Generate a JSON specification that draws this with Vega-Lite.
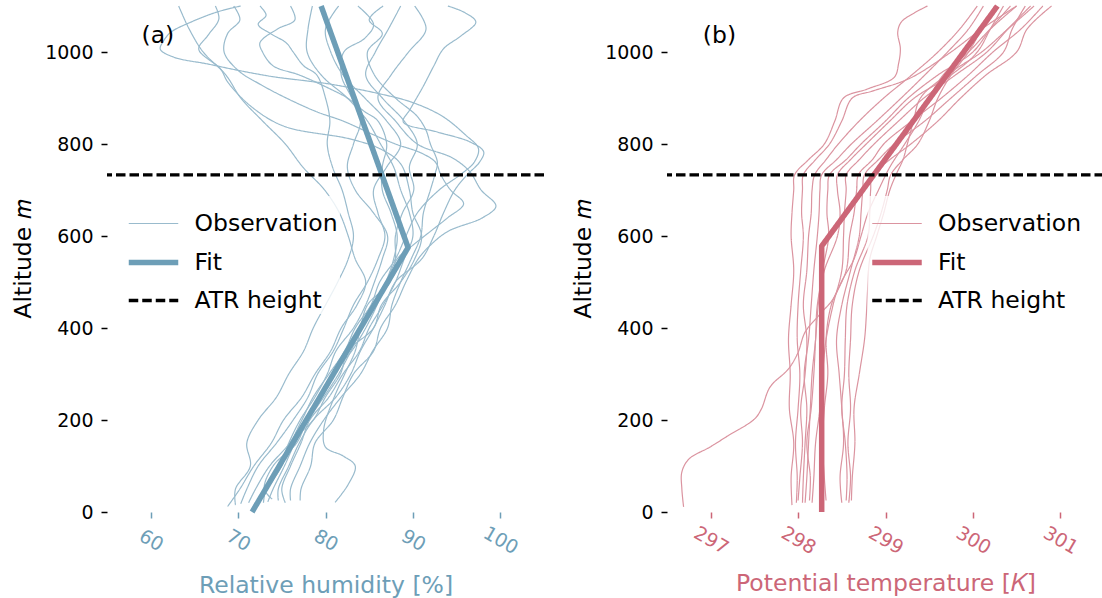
{
  "$schema": "https://vega.github.io/schema/vega-lite/v6.json",
  "autosize": {"type": "pad"},
  "padding": {"left": 11, "top": 3, "right": 0, "bottom": 0},
  "spacing": 25,
  "config": {
    "view": {"stroke": null},
    "font": "DejaVu Sans",
    "axis": {
      "grid": false,
      "domain": false,
      "labelFont": "DejaVu Sans",
      "titleFont": "DejaVu Sans",
      "labelFontSize": 19,
      "titleFontSize": 23.5,
      "titleFontWeight": "normal",
      "tickSize": 6,
      "tickWidth": 1.5,
      "labelOverlap": false,
      "labelColor": "#000000",
      "tickColor": "#000000",
      "titleColor": "#000000"
    },
    "legend": {
      "title": null,
      "orient": "none",
      "symbolType": "stroke",
      "symbolSize": 2450,
      "labelFont": "DejaVu Sans",
      "labelFontSize": 23.5,
      "labelColor": "#000000",
      "labelOffset": 13.5,
      "labelLimit": 400,
      "rowPadding": -22,
      "padding": 2,
      "fillColor": "rgba(255,255,255,0.8)"
    }
  },
  "datasets": {
    "rh_fit": [
      {"kind": "Fit", "alt": 0, "rh": 71.6},
      {"kind": "Fit", "alt": 575, "rh": 89.45},
      {"kind": "Fit", "alt": 1100, "rh": 79.5}
    ],
    "theta_fit": [
      {"kind": "Fit", "alt": 0, "theta": 298.27},
      {"kind": "Fit", "alt": 578, "theta": 298.27},
      {"kind": "Fit", "alt": 1100, "theta": 300.28}
    ],
    "atr": [
      {"kind": "ATR height", "alt": 733}
    ],
    "rh_obs": [
      {"p": "L1", "kind": "Observation", "alt": 12, "rh": 68.8},
      {"p": "L1", "kind": "Observation", "alt": 50, "rh": 70.2},
      {"p": "L1", "kind": "Observation", "alt": 100, "rh": 71.8},
      {"p": "L1", "kind": "Observation", "alt": 150, "rh": 73.8},
      {"p": "L1", "kind": "Observation", "alt": 200, "rh": 75.2},
      {"p": "L1", "kind": "Observation", "alt": 250, "rh": 77.3},
      {"p": "L1", "kind": "Observation", "alt": 300, "rh": 78.8},
      {"p": "L1", "kind": "Observation", "alt": 350, "rh": 80.6},
      {"p": "L1", "kind": "Observation", "alt": 400, "rh": 81.8},
      {"p": "L1", "kind": "Observation", "alt": 450, "rh": 83.6},
      {"p": "L1", "kind": "Observation", "alt": 500, "rh": 84.6},
      {"p": "L1", "kind": "Observation", "alt": 550, "rh": 83.4},
      {"p": "L1", "kind": "Observation", "alt": 600, "rh": 82.6},
      {"p": "L1", "kind": "Observation", "alt": 650, "rh": 81.6},
      {"p": "L1", "kind": "Observation", "alt": 700, "rh": 79.9},
      {"p": "L1", "kind": "Observation", "alt": 750, "rh": 77.4},
      {"p": "L1", "kind": "Observation", "alt": 800, "rh": 75.4},
      {"p": "L1", "kind": "Observation", "alt": 850, "rh": 72.8},
      {"p": "L1", "kind": "Observation", "alt": 900, "rh": 70.3},
      {"p": "L1", "kind": "Observation", "alt": 950, "rh": 68.6},
      {"p": "L1", "kind": "Observation", "alt": 1000, "rh": 66.0},
      {"p": "L1", "kind": "Observation", "alt": 1050, "rh": 64.4},
      {"p": "L1", "kind": "Observation", "alt": 1100, "rh": 63.2},

      {"p": "L2", "kind": "Observation", "alt": 20, "rh": 71.2},
      {"p": "L2", "kind": "Observation", "alt": 50, "rh": 72.0},
      {"p": "L2", "kind": "Observation", "alt": 100, "rh": 73.6},
      {"p": "L2", "kind": "Observation", "alt": 150, "rh": 75.9},
      {"p": "L2", "kind": "Observation", "alt": 200, "rh": 77.3},
      {"p": "L2", "kind": "Observation", "alt": 250, "rh": 78.6},
      {"p": "L2", "kind": "Observation", "alt": 300, "rh": 80.4},
      {"p": "L2", "kind": "Observation", "alt": 350, "rh": 82.2},
      {"p": "L2", "kind": "Observation", "alt": 400, "rh": 83.4},
      {"p": "L2", "kind": "Observation", "alt": 450, "rh": 85.2},
      {"p": "L2", "kind": "Observation", "alt": 500, "rh": 86.2},
      {"p": "L2", "kind": "Observation", "alt": 550, "rh": 88.0},
      {"p": "L2", "kind": "Observation", "alt": 600, "rh": 89.2},
      {"p": "L2", "kind": "Observation", "alt": 650, "rh": 90.5},
      {"p": "L2", "kind": "Observation", "alt": 700, "rh": 93.0},
      {"p": "L2", "kind": "Observation", "alt": 733, "rh": 95.4},
      {"p": "L2", "kind": "Observation", "alt": 760, "rh": 97.0},
      {"p": "L2", "kind": "Observation", "alt": 790, "rh": 97.5},
      {"p": "L2", "kind": "Observation", "alt": 820, "rh": 96.0},
      {"p": "L2", "kind": "Observation", "alt": 860, "rh": 93.4},
      {"p": "L2", "kind": "Observation", "alt": 890, "rh": 90.0},
      {"p": "L2", "kind": "Observation", "alt": 910, "rh": 86.0},
      {"p": "L2", "kind": "Observation", "alt": 930, "rh": 80.6},
      {"p": "L2", "kind": "Observation", "alt": 937, "rh": 77.9},
      {"p": "L2", "kind": "Observation", "alt": 946, "rh": 74.1},
      {"p": "L2", "kind": "Observation", "alt": 959, "rh": 70.3},
      {"p": "L2", "kind": "Observation", "alt": 974, "rh": 66.5},
      {"p": "L2", "kind": "Observation", "alt": 989, "rh": 62.6},
      {"p": "L2", "kind": "Observation", "alt": 1006, "rh": 61.1},
      {"p": "L2", "kind": "Observation", "alt": 1025, "rh": 61.5},
      {"p": "L2", "kind": "Observation", "alt": 1043, "rh": 62.3},
      {"p": "L2", "kind": "Observation", "alt": 1065, "rh": 64.6},
      {"p": "L2", "kind": "Observation", "alt": 1087, "rh": 67.6},
      {"p": "L2", "kind": "Observation", "alt": 1100, "rh": 70.3},

      {"p": "L3", "kind": "Observation", "alt": 25, "rh": 72.3},
      {"p": "L3", "kind": "Observation", "alt": 50, "rh": 73.2},
      {"p": "L3", "kind": "Observation", "alt": 100, "rh": 75.0},
      {"p": "L3", "kind": "Observation", "alt": 150, "rh": 76.0},
      {"p": "L3", "kind": "Observation", "alt": 200, "rh": 78.6},
      {"p": "L3", "kind": "Observation", "alt": 250, "rh": 80.0},
      {"p": "L3", "kind": "Observation", "alt": 300, "rh": 81.7},
      {"p": "L3", "kind": "Observation", "alt": 350, "rh": 82.6},
      {"p": "L3", "kind": "Observation", "alt": 400, "rh": 85.5},
      {"p": "L3", "kind": "Observation", "alt": 450, "rh": 86.4},
      {"p": "L3", "kind": "Observation", "alt": 500, "rh": 88.6},
      {"p": "L3", "kind": "Observation", "alt": 550, "rh": 90.2},
      {"p": "L3", "kind": "Observation", "alt": 600, "rh": 91.0},
      {"p": "L3", "kind": "Observation", "alt": 650, "rh": 90.0},
      {"p": "L3", "kind": "Observation", "alt": 700, "rh": 89.6},
      {"p": "L3", "kind": "Observation", "alt": 757, "rh": 88.6},
      {"p": "L3", "kind": "Observation", "alt": 789, "rh": 86.3},
      {"p": "L3", "kind": "Observation", "alt": 811, "rh": 82.8},
      {"p": "L3", "kind": "Observation", "alt": 839, "rh": 75.2},
      {"p": "L3", "kind": "Observation", "alt": 883, "rh": 71.4},
      {"p": "L3", "kind": "Observation", "alt": 935, "rh": 68.8},
      {"p": "L3", "kind": "Observation", "alt": 963, "rh": 68.0},
      {"p": "L3", "kind": "Observation", "alt": 1006, "rh": 65.5},
      {"p": "L3", "kind": "Observation", "alt": 1035, "rh": 66.5},
      {"p": "L3", "kind": "Observation", "alt": 1072, "rh": 67.8},
      {"p": "L3", "kind": "Observation", "alt": 1100, "rh": 67.4},

      {"p": "L4", "kind": "Observation", "alt": 22, "rh": 73.4},
      {"p": "L4", "kind": "Observation", "alt": 50, "rh": 74.0},
      {"p": "L4", "kind": "Observation", "alt": 100, "rh": 75.3},
      {"p": "L4", "kind": "Observation", "alt": 150, "rh": 76.5},
      {"p": "L4", "kind": "Observation", "alt": 200, "rh": 78.0},
      {"p": "L4", "kind": "Observation", "alt": 250, "rh": 79.8},
      {"p": "L4", "kind": "Observation", "alt": 300, "rh": 81.5},
      {"p": "L4", "kind": "Observation", "alt": 350, "rh": 82.9},
      {"p": "L4", "kind": "Observation", "alt": 400, "rh": 84.2},
      {"p": "L4", "kind": "Observation", "alt": 450, "rh": 85.6},
      {"p": "L4", "kind": "Observation", "alt": 500, "rh": 86.9},
      {"p": "L4", "kind": "Observation", "alt": 550, "rh": 87.8},
      {"p": "L4", "kind": "Observation", "alt": 600, "rh": 88.2},
      {"p": "L4", "kind": "Observation", "alt": 650, "rh": 87.5},
      {"p": "L4", "kind": "Observation", "alt": 700, "rh": 86.5},
      {"p": "L4", "kind": "Observation", "alt": 750, "rh": 86.5},
      {"p": "L4", "kind": "Observation", "alt": 800, "rh": 87.0},
      {"p": "L4", "kind": "Observation", "alt": 850, "rh": 86.0},
      {"p": "L4", "kind": "Observation", "alt": 870, "rh": 84.5},
      {"p": "L4", "kind": "Observation", "alt": 900, "rh": 82.5},
      {"p": "L4", "kind": "Observation", "alt": 920, "rh": 80.5},
      {"p": "L4", "kind": "Observation", "alt": 950, "rh": 77.0},
      {"p": "L4", "kind": "Observation", "alt": 970, "rh": 74.0},
      {"p": "L4", "kind": "Observation", "alt": 1000, "rh": 72.8},
      {"p": "L4", "kind": "Observation", "alt": 1020, "rh": 72.5},
      {"p": "L4", "kind": "Observation", "alt": 1050, "rh": 74.5},
      {"p": "L4", "kind": "Observation", "alt": 1070, "rh": 76.5},
      {"p": "L4", "kind": "Observation", "alt": 1100, "rh": 76.0},

      {"p": "L5", "kind": "Observation", "alt": 18, "rh": 70.3},
      {"p": "L5", "kind": "Observation", "alt": 50, "rh": 71.0},
      {"p": "L5", "kind": "Observation", "alt": 100, "rh": 72.3},
      {"p": "L5", "kind": "Observation", "alt": 150, "rh": 74.4},
      {"p": "L5", "kind": "Observation", "alt": 200, "rh": 76.3},
      {"p": "L5", "kind": "Observation", "alt": 250, "rh": 78.0},
      {"p": "L5", "kind": "Observation", "alt": 300, "rh": 79.1},
      {"p": "L5", "kind": "Observation", "alt": 350, "rh": 80.9},
      {"p": "L5", "kind": "Observation", "alt": 400, "rh": 82.1},
      {"p": "L5", "kind": "Observation", "alt": 450, "rh": 83.2},
      {"p": "L5", "kind": "Observation", "alt": 500, "rh": 84.8},
      {"p": "L5", "kind": "Observation", "alt": 550, "rh": 86.0},
      {"p": "L5", "kind": "Observation", "alt": 600, "rh": 86.8},
      {"p": "L5", "kind": "Observation", "alt": 650, "rh": 86.0},
      {"p": "L5", "kind": "Observation", "alt": 700, "rh": 85.5},
      {"p": "L5", "kind": "Observation", "alt": 750, "rh": 87.0},
      {"p": "L5", "kind": "Observation", "alt": 800, "rh": 88.6},
      {"p": "L5", "kind": "Observation", "alt": 850, "rh": 87.0},
      {"p": "L5", "kind": "Observation", "alt": 900, "rh": 84.5},
      {"p": "L5", "kind": "Observation", "alt": 950, "rh": 82.0},
      {"p": "L5", "kind": "Observation", "alt": 1000, "rh": 80.6},
      {"p": "L5", "kind": "Observation", "alt": 1050, "rh": 80.0},
      {"p": "L5", "kind": "Observation", "alt": 1100, "rh": 81.5},

      {"p": "L6", "kind": "Observation", "alt": 20, "rh": 72.9},
      {"p": "L6", "kind": "Observation", "alt": 50, "rh": 73.2},
      {"p": "L6", "kind": "Observation", "alt": 100, "rh": 74.8},
      {"p": "L6", "kind": "Observation", "alt": 150, "rh": 75.8},
      {"p": "L6", "kind": "Observation", "alt": 200, "rh": 77.1},
      {"p": "L6", "kind": "Observation", "alt": 250, "rh": 78.8},
      {"p": "L6", "kind": "Observation", "alt": 300, "rh": 80.2},
      {"p": "L6", "kind": "Observation", "alt": 350, "rh": 81.2},
      {"p": "L6", "kind": "Observation", "alt": 400, "rh": 83.2},
      {"p": "L6", "kind": "Observation", "alt": 450, "rh": 84.6},
      {"p": "L6", "kind": "Observation", "alt": 500, "rh": 85.6},
      {"p": "L6", "kind": "Observation", "alt": 550, "rh": 86.5},
      {"p": "L6", "kind": "Observation", "alt": 600, "rh": 87.1},
      {"p": "L6", "kind": "Observation", "alt": 650, "rh": 85.5},
      {"p": "L6", "kind": "Observation", "alt": 700, "rh": 83.4},
      {"p": "L6", "kind": "Observation", "alt": 750, "rh": 82.5},
      {"p": "L6", "kind": "Observation", "alt": 800, "rh": 83.2},
      {"p": "L6", "kind": "Observation", "alt": 850, "rh": 84.0},
      {"p": "L6", "kind": "Observation", "alt": 900, "rh": 83.0},
      {"p": "L6", "kind": "Observation", "alt": 950, "rh": 81.8},
      {"p": "L6", "kind": "Observation", "alt": 1000, "rh": 82.1},
      {"p": "L6", "kind": "Observation", "alt": 1030, "rh": 84.5},
      {"p": "L6", "kind": "Observation", "alt": 1060, "rh": 85.5},
      {"p": "L6", "kind": "Observation", "alt": 1100, "rh": 83.7},

      {"p": "L7", "kind": "Observation", "alt": 25, "rh": 76.0},
      {"p": "L7", "kind": "Observation", "alt": 50, "rh": 76.0},
      {"p": "L7", "kind": "Observation", "alt": 100, "rh": 77.1},
      {"p": "L7", "kind": "Observation", "alt": 150, "rh": 78.2},
      {"p": "L7", "kind": "Observation", "alt": 200, "rh": 79.8},
      {"p": "L7", "kind": "Observation", "alt": 250, "rh": 81.8},
      {"p": "L7", "kind": "Observation", "alt": 300, "rh": 84.0},
      {"p": "L7", "kind": "Observation", "alt": 350, "rh": 85.4},
      {"p": "L7", "kind": "Observation", "alt": 400, "rh": 87.1},
      {"p": "L7", "kind": "Observation", "alt": 450, "rh": 87.6},
      {"p": "L7", "kind": "Observation", "alt": 500, "rh": 88.6},
      {"p": "L7", "kind": "Observation", "alt": 550, "rh": 89.8},
      {"p": "L7", "kind": "Observation", "alt": 600, "rh": 90.9},
      {"p": "L7", "kind": "Observation", "alt": 650, "rh": 91.2},
      {"p": "L7", "kind": "Observation", "alt": 700, "rh": 92.0},
      {"p": "L7", "kind": "Observation", "alt": 733, "rh": 92.5},
      {"p": "L7", "kind": "Observation", "alt": 760, "rh": 92.8},
      {"p": "L7", "kind": "Observation", "alt": 800, "rh": 92.0},
      {"p": "L7", "kind": "Observation", "alt": 830, "rh": 91.5},
      {"p": "L7", "kind": "Observation", "alt": 860, "rh": 90.5},
      {"p": "L7", "kind": "Observation", "alt": 900, "rh": 88.0},
      {"p": "L7", "kind": "Observation", "alt": 950, "rh": 85.6},
      {"p": "L7", "kind": "Observation", "alt": 1000, "rh": 84.8},
      {"p": "L7", "kind": "Observation", "alt": 1040, "rh": 86.5},
      {"p": "L7", "kind": "Observation", "alt": 1070, "rh": 85.0},
      {"p": "L7", "kind": "Observation", "alt": 1100, "rh": 86.6},

      {"p": "L8", "kind": "Observation", "alt": 25, "rh": 74.6},
      {"p": "L8", "kind": "Observation", "alt": 50, "rh": 74.6},
      {"p": "L8", "kind": "Observation", "alt": 100, "rh": 75.8},
      {"p": "L8", "kind": "Observation", "alt": 150, "rh": 77.0},
      {"p": "L8", "kind": "Observation", "alt": 200, "rh": 78.6},
      {"p": "L8", "kind": "Observation", "alt": 250, "rh": 81.2},
      {"p": "L8", "kind": "Observation", "alt": 300, "rh": 82.9},
      {"p": "L8", "kind": "Observation", "alt": 350, "rh": 84.0},
      {"p": "L8", "kind": "Observation", "alt": 400, "rh": 85.5},
      {"p": "L8", "kind": "Observation", "alt": 450, "rh": 86.8},
      {"p": "L8", "kind": "Observation", "alt": 500, "rh": 88.0},
      {"p": "L8", "kind": "Observation", "alt": 550, "rh": 91.0},
      {"p": "L8", "kind": "Observation", "alt": 600, "rh": 92.4},
      {"p": "L8", "kind": "Observation", "alt": 650, "rh": 93.5},
      {"p": "L8", "kind": "Observation", "alt": 700, "rh": 94.8},
      {"p": "L8", "kind": "Observation", "alt": 733, "rh": 96.2},
      {"p": "L8", "kind": "Observation", "alt": 760, "rh": 97.6},
      {"p": "L8", "kind": "Observation", "alt": 783, "rh": 98.1},
      {"p": "L8", "kind": "Observation", "alt": 804, "rh": 96.6},
      {"p": "L8", "kind": "Observation", "alt": 826, "rh": 92.8},
      {"p": "L8", "kind": "Observation", "alt": 848, "rh": 88.9},
      {"p": "L8", "kind": "Observation", "alt": 876, "rh": 89.7},
      {"p": "L8", "kind": "Observation", "alt": 926, "rh": 91.2},
      {"p": "L8", "kind": "Observation", "alt": 970, "rh": 92.4},
      {"p": "L8", "kind": "Observation", "alt": 1007, "rh": 93.5},
      {"p": "L8", "kind": "Observation", "alt": 1035, "rh": 95.5},
      {"p": "L8", "kind": "Observation", "alt": 1065, "rh": 97.2},
      {"p": "L8", "kind": "Observation", "alt": 1085, "rh": 96.0},
      {"p": "L8", "kind": "Observation", "alt": 1100, "rh": 94.0},

      {"p": "L9", "kind": "Observation", "alt": 25, "rh": 77.1},
      {"p": "L9", "kind": "Observation", "alt": 50, "rh": 77.2},
      {"p": "L9", "kind": "Observation", "alt": 100, "rh": 78.3},
      {"p": "L9", "kind": "Observation", "alt": 150, "rh": 78.8},
      {"p": "L9", "kind": "Observation", "alt": 200, "rh": 80.9},
      {"p": "L9", "kind": "Observation", "alt": 250, "rh": 82.0},
      {"p": "L9", "kind": "Observation", "alt": 300, "rh": 83.2},
      {"p": "L9", "kind": "Observation", "alt": 350, "rh": 85.5},
      {"p": "L9", "kind": "Observation", "alt": 400, "rh": 86.3},
      {"p": "L9", "kind": "Observation", "alt": 450, "rh": 88.0},
      {"p": "L9", "kind": "Observation", "alt": 500, "rh": 89.2},
      {"p": "L9", "kind": "Observation", "alt": 550, "rh": 90.6},
      {"p": "L9", "kind": "Observation", "alt": 580, "rh": 92.0},
      {"p": "L9", "kind": "Observation", "alt": 610, "rh": 94.0},
      {"p": "L9", "kind": "Observation", "alt": 640, "rh": 98.0},
      {"p": "L9", "kind": "Observation", "alt": 665, "rh": 99.5},
      {"p": "L9", "kind": "Observation", "alt": 700, "rh": 97.8},
      {"p": "L9", "kind": "Observation", "alt": 740, "rh": 96.5},
      {"p": "L9", "kind": "Observation", "alt": 770, "rh": 94.5},
      {"p": "L9", "kind": "Observation", "alt": 800, "rh": 90.5},
      {"p": "L9", "kind": "Observation", "alt": 850, "rh": 88.0},
      {"p": "L9", "kind": "Observation", "alt": 900, "rh": 86.0},
      {"p": "L9", "kind": "Observation", "alt": 950, "rh": 87.5},
      {"p": "L9", "kind": "Observation", "alt": 1000, "rh": 89.5},
      {"p": "L9", "kind": "Observation", "alt": 1050, "rh": 91.5},
      {"p": "L9", "kind": "Observation", "alt": 1100, "rh": 90.2},

      {"p": "L10", "kind": "Observation", "alt": 21, "rh": 81.1},
      {"p": "L10", "kind": "Observation", "alt": 60, "rh": 82.6},
      {"p": "L10", "kind": "Observation", "alt": 100, "rh": 83.4},
      {"p": "L10", "kind": "Observation", "alt": 122, "rh": 82.0},
      {"p": "L10", "kind": "Observation", "alt": 141, "rh": 80.0},
      {"p": "L10", "kind": "Observation", "alt": 180, "rh": 79.8},
      {"p": "L10", "kind": "Observation", "alt": 245, "rh": 80.9},
      {"p": "L10", "kind": "Observation", "alt": 300, "rh": 82.2},
      {"p": "L10", "kind": "Observation", "alt": 350, "rh": 83.4},
      {"p": "L10", "kind": "Observation", "alt": 400, "rh": 84.0},
      {"p": "L10", "kind": "Observation", "alt": 450, "rh": 84.8},
      {"p": "L10", "kind": "Observation", "alt": 500, "rh": 87.4},
      {"p": "L10", "kind": "Observation", "alt": 550, "rh": 88.0},
      {"p": "L10", "kind": "Observation", "alt": 600, "rh": 88.0},
      {"p": "L10", "kind": "Observation", "alt": 650, "rh": 88.8},
      {"p": "L10", "kind": "Observation", "alt": 700, "rh": 90.1},
      {"p": "L10", "kind": "Observation", "alt": 750, "rh": 89.6},
      {"p": "L10", "kind": "Observation", "alt": 800, "rh": 90.5},
      {"p": "L10", "kind": "Observation", "alt": 850, "rh": 89.0},
      {"p": "L10", "kind": "Observation", "alt": 900, "rh": 86.5},
      {"p": "L10", "kind": "Observation", "alt": 950, "rh": 84.6},
      {"p": "L10", "kind": "Observation", "alt": 1000, "rh": 85.7},
      {"p": "L10", "kind": "Observation", "alt": 1050, "rh": 87.2},
      {"p": "L10", "kind": "Observation", "alt": 1100, "rh": 88.6},

      {"p": "L11", "kind": "Observation", "alt": 15, "rh": 69.7},
      {"p": "L11", "kind": "Observation", "alt": 50, "rh": 69.7},
      {"p": "L11", "kind": "Observation", "alt": 100, "rh": 71.4},
      {"p": "L11", "kind": "Observation", "alt": 150, "rh": 71.0},
      {"p": "L11", "kind": "Observation", "alt": 200, "rh": 72.3},
      {"p": "L11", "kind": "Observation", "alt": 250, "rh": 74.4},
      {"p": "L11", "kind": "Observation", "alt": 300, "rh": 75.8},
      {"p": "L11", "kind": "Observation", "alt": 350, "rh": 77.5},
      {"p": "L11", "kind": "Observation", "alt": 400, "rh": 78.6},
      {"p": "L11", "kind": "Observation", "alt": 450, "rh": 80.0},
      {"p": "L11", "kind": "Observation", "alt": 500, "rh": 81.4},
      {"p": "L11", "kind": "Observation", "alt": 550, "rh": 82.6},
      {"p": "L11", "kind": "Observation", "alt": 600, "rh": 83.2},
      {"p": "L11", "kind": "Observation", "alt": 650, "rh": 82.6},
      {"p": "L11", "kind": "Observation", "alt": 700, "rh": 81.9},
      {"p": "L11", "kind": "Observation", "alt": 750, "rh": 80.8},
      {"p": "L11", "kind": "Observation", "alt": 800, "rh": 80.2},
      {"p": "L11", "kind": "Observation", "alt": 850, "rh": 80.5},
      {"p": "L11", "kind": "Observation", "alt": 900, "rh": 80.0},
      {"p": "L11", "kind": "Observation", "alt": 950, "rh": 79.0},
      {"p": "L11", "kind": "Observation", "alt": 970, "rh": 77.5},
      {"p": "L11", "kind": "Observation", "alt": 1000, "rh": 76.3},
      {"p": "L11", "kind": "Observation", "alt": 1020, "rh": 75.5},
      {"p": "L11", "kind": "Observation", "alt": 1040, "rh": 73.7},
      {"p": "L11", "kind": "Observation", "alt": 1060, "rh": 72.3},
      {"p": "L11", "kind": "Observation", "alt": 1080, "rh": 73.2},
      {"p": "L11", "kind": "Observation", "alt": 1100, "rh": 72.5},

      {"p": "L12", "kind": "Observation", "alt": 20, "rh": 75.4},
      {"p": "L12", "kind": "Observation", "alt": 50, "rh": 75.0},
      {"p": "L12", "kind": "Observation", "alt": 100, "rh": 76.0},
      {"p": "L12", "kind": "Observation", "alt": 150, "rh": 77.2},
      {"p": "L12", "kind": "Observation", "alt": 200, "rh": 78.2},
      {"p": "L12", "kind": "Observation", "alt": 250, "rh": 80.4},
      {"p": "L12", "kind": "Observation", "alt": 300, "rh": 82.0},
      {"p": "L12", "kind": "Observation", "alt": 350, "rh": 83.9},
      {"p": "L12", "kind": "Observation", "alt": 400, "rh": 85.0},
      {"p": "L12", "kind": "Observation", "alt": 450, "rh": 86.6},
      {"p": "L12", "kind": "Observation", "alt": 500, "rh": 88.0},
      {"p": "L12", "kind": "Observation", "alt": 550, "rh": 89.0},
      {"p": "L12", "kind": "Observation", "alt": 600, "rh": 90.0},
      {"p": "L12", "kind": "Observation", "alt": 650, "rh": 89.6},
      {"p": "L12", "kind": "Observation", "alt": 700, "rh": 88.6},
      {"p": "L12", "kind": "Observation", "alt": 750, "rh": 87.8},
      {"p": "L12", "kind": "Observation", "alt": 800, "rh": 86.3},
      {"p": "L12", "kind": "Observation", "alt": 850, "rh": 84.8},
      {"p": "L12", "kind": "Observation", "alt": 900, "rh": 82.5},
      {"p": "L12", "kind": "Observation", "alt": 950, "rh": 79.5},
      {"p": "L12", "kind": "Observation", "alt": 1000, "rh": 77.9},
      {"p": "L12", "kind": "Observation", "alt": 1050, "rh": 78.0},
      {"p": "L12", "kind": "Observation", "alt": 1100, "rh": 78.5},

      {"p": "L13", "kind": "Observation", "alt": 28, "rh": 73.9},
      {"p": "L13", "kind": "Observation", "alt": 50, "rh": 73.0},
      {"p": "L13", "kind": "Observation", "alt": 100, "rh": 74.0},
      {"p": "L13", "kind": "Observation", "alt": 150, "rh": 76.7},
      {"p": "L13", "kind": "Observation", "alt": 200, "rh": 77.9},
      {"p": "L13", "kind": "Observation", "alt": 250, "rh": 79.5},
      {"p": "L13", "kind": "Observation", "alt": 300, "rh": 80.8},
      {"p": "L13", "kind": "Observation", "alt": 350, "rh": 83.0},
      {"p": "L13", "kind": "Observation", "alt": 400, "rh": 84.6},
      {"p": "L13", "kind": "Observation", "alt": 450, "rh": 85.9},
      {"p": "L13", "kind": "Observation", "alt": 500, "rh": 87.0},
      {"p": "L13", "kind": "Observation", "alt": 550, "rh": 88.2},
      {"p": "L13", "kind": "Observation", "alt": 580, "rh": 90.0},
      {"p": "L13", "kind": "Observation", "alt": 610, "rh": 92.0},
      {"p": "L13", "kind": "Observation", "alt": 640, "rh": 94.0},
      {"p": "L13", "kind": "Observation", "alt": 670, "rh": 95.8},
      {"p": "L13", "kind": "Observation", "alt": 700, "rh": 94.3},
      {"p": "L13", "kind": "Observation", "alt": 733, "rh": 93.2},
      {"p": "L13", "kind": "Observation", "alt": 760, "rh": 92.6},
      {"p": "L13", "kind": "Observation", "alt": 780, "rh": 91.0},
      {"p": "L13", "kind": "Observation", "alt": 800, "rh": 88.0},
      {"p": "L13", "kind": "Observation", "alt": 820, "rh": 85.5},
      {"p": "L13", "kind": "Observation", "alt": 850, "rh": 82.0},
      {"p": "L13", "kind": "Observation", "alt": 870, "rh": 79.0},
      {"p": "L13", "kind": "Observation", "alt": 900, "rh": 75.5},
      {"p": "L13", "kind": "Observation", "alt": 930, "rh": 72.5},
      {"p": "L13", "kind": "Observation", "alt": 960, "rh": 70.0},
      {"p": "L13", "kind": "Observation", "alt": 1000, "rh": 68.4},
      {"p": "L13", "kind": "Observation", "alt": 1040, "rh": 68.8},
      {"p": "L13", "kind": "Observation", "alt": 1070, "rh": 70.2},
      {"p": "L13", "kind": "Observation", "alt": 1100, "rh": 69.5}
    ],
    "theta_obs": [
      {"p": "R1", "kind": "Observation", "alt": 11, "theta": 296.69},
      {"p": "R1", "kind": "Observation", "alt": 50, "theta": 296.67},
      {"p": "R1", "kind": "Observation", "alt": 87, "theta": 296.67},
      {"p": "R1", "kind": "Observation", "alt": 115, "theta": 296.75},
      {"p": "R1", "kind": "Observation", "alt": 141, "theta": 296.99},
      {"p": "R1", "kind": "Observation", "alt": 166, "theta": 297.2},
      {"p": "R1", "kind": "Observation", "alt": 202, "theta": 297.5},
      {"p": "R1", "kind": "Observation", "alt": 224, "theta": 297.58},
      {"p": "R1", "kind": "Observation", "alt": 272, "theta": 297.68},
      {"p": "R1", "kind": "Observation", "alt": 311, "theta": 297.89},
      {"p": "R1", "kind": "Observation", "alt": 347, "theta": 298.0},
      {"p": "R1", "kind": "Observation", "alt": 391, "theta": 298.08},
      {"p": "R1", "kind": "Observation", "alt": 430, "theta": 298.25},
      {"p": "R1", "kind": "Observation", "alt": 463, "theta": 298.4},
      {"p": "R1", "kind": "Observation", "alt": 506, "theta": 298.51},
      {"p": "R1", "kind": "Observation", "alt": 550, "theta": 298.64},
      {"p": "R1", "kind": "Observation", "alt": 600, "theta": 298.72},
      {"p": "R1", "kind": "Observation", "alt": 650, "theta": 298.8},
      {"p": "R1", "kind": "Observation", "alt": 700, "theta": 298.92},
      {"p": "R1", "kind": "Observation", "alt": 750, "theta": 299.05},
      {"p": "R1", "kind": "Observation", "alt": 800, "theta": 299.22},
      {"p": "R1", "kind": "Observation", "alt": 850, "theta": 299.38},
      {"p": "R1", "kind": "Observation", "alt": 900, "theta": 299.5},
      {"p": "R1", "kind": "Observation", "alt": 950, "theta": 299.66},
      {"p": "R1", "kind": "Observation", "alt": 1000, "theta": 299.95},
      {"p": "R1", "kind": "Observation", "alt": 1050, "theta": 300.2},
      {"p": "R1", "kind": "Observation", "alt": 1100, "theta": 300.5},

      {"p": "R2", "kind": "Observation", "alt": 15, "theta": 297.93},
      {"p": "R2", "kind": "Observation", "alt": 75, "theta": 297.92},
      {"p": "R2", "kind": "Observation", "alt": 150, "theta": 297.95},
      {"p": "R2", "kind": "Observation", "alt": 225, "theta": 297.9},
      {"p": "R2", "kind": "Observation", "alt": 300, "theta": 297.91},
      {"p": "R2", "kind": "Observation", "alt": 375, "theta": 297.89},
      {"p": "R2", "kind": "Observation", "alt": 450, "theta": 297.92},
      {"p": "R2", "kind": "Observation", "alt": 525, "theta": 297.95},
      {"p": "R2", "kind": "Observation", "alt": 600, "theta": 297.92},
      {"p": "R2", "kind": "Observation", "alt": 650, "theta": 297.93},
      {"p": "R2", "kind": "Observation", "alt": 700, "theta": 297.95},
      {"p": "R2", "kind": "Observation", "alt": 733, "theta": 297.96},
      {"p": "R2", "kind": "Observation", "alt": 766, "theta": 298.12},
      {"p": "R2", "kind": "Observation", "alt": 800, "theta": 298.3},
      {"p": "R2", "kind": "Observation", "alt": 850, "theta": 298.42},
      {"p": "R2", "kind": "Observation", "alt": 900, "theta": 298.52},
      {"p": "R2", "kind": "Observation", "alt": 920, "theta": 298.8},
      {"p": "R2", "kind": "Observation", "alt": 945, "theta": 299.1},
      {"p": "R2", "kind": "Observation", "alt": 975, "theta": 299.15},
      {"p": "R2", "kind": "Observation", "alt": 1007, "theta": 299.17},
      {"p": "R2", "kind": "Observation", "alt": 1043, "theta": 299.14},
      {"p": "R2", "kind": "Observation", "alt": 1065, "theta": 299.18},
      {"p": "R2", "kind": "Observation", "alt": 1085, "theta": 299.33},
      {"p": "R2", "kind": "Observation", "alt": 1100, "theta": 299.48},

      {"p": "R3", "kind": "Observation", "alt": 20, "theta": 297.98},
      {"p": "R3", "kind": "Observation", "alt": 75, "theta": 297.99},
      {"p": "R3", "kind": "Observation", "alt": 150, "theta": 297.97},
      {"p": "R3", "kind": "Observation", "alt": 225, "theta": 298.0},
      {"p": "R3", "kind": "Observation", "alt": 300, "theta": 298.02},
      {"p": "R3", "kind": "Observation", "alt": 375, "theta": 297.99},
      {"p": "R3", "kind": "Observation", "alt": 450, "theta": 298.0},
      {"p": "R3", "kind": "Observation", "alt": 525, "theta": 298.03},
      {"p": "R3", "kind": "Observation", "alt": 600, "theta": 298.06},
      {"p": "R3", "kind": "Observation", "alt": 650, "theta": 298.04},
      {"p": "R3", "kind": "Observation", "alt": 700, "theta": 298.05},
      {"p": "R3", "kind": "Observation", "alt": 733, "theta": 298.06},
      {"p": "R3", "kind": "Observation", "alt": 766, "theta": 298.2},
      {"p": "R3", "kind": "Observation", "alt": 800, "theta": 298.36},
      {"p": "R3", "kind": "Observation", "alt": 850, "theta": 298.5},
      {"p": "R3", "kind": "Observation", "alt": 900, "theta": 298.62},
      {"p": "R3", "kind": "Observation", "alt": 915, "theta": 298.85},
      {"p": "R3", "kind": "Observation", "alt": 935, "theta": 299.18},
      {"p": "R3", "kind": "Observation", "alt": 952, "theta": 299.37},
      {"p": "R3", "kind": "Observation", "alt": 1000, "theta": 299.75},
      {"p": "R3", "kind": "Observation", "alt": 1050, "theta": 300.1},
      {"p": "R3", "kind": "Observation", "alt": 1100, "theta": 300.5},

      {"p": "R4", "kind": "Observation", "alt": 25, "theta": 298.0},
      {"p": "R4", "kind": "Observation", "alt": 75, "theta": 298.02},
      {"p": "R4", "kind": "Observation", "alt": 150, "theta": 298.05},
      {"p": "R4", "kind": "Observation", "alt": 225, "theta": 298.03},
      {"p": "R4", "kind": "Observation", "alt": 300, "theta": 298.08},
      {"p": "R4", "kind": "Observation", "alt": 375, "theta": 298.1},
      {"p": "R4", "kind": "Observation", "alt": 450, "theta": 298.06},
      {"p": "R4", "kind": "Observation", "alt": 525, "theta": 298.1},
      {"p": "R4", "kind": "Observation", "alt": 600, "theta": 298.12},
      {"p": "R4", "kind": "Observation", "alt": 650, "theta": 298.15},
      {"p": "R4", "kind": "Observation", "alt": 700, "theta": 298.16},
      {"p": "R4", "kind": "Observation", "alt": 733, "theta": 298.19},
      {"p": "R4", "kind": "Observation", "alt": 766, "theta": 298.32},
      {"p": "R4", "kind": "Observation", "alt": 800, "theta": 298.46},
      {"p": "R4", "kind": "Observation", "alt": 850, "theta": 298.7},
      {"p": "R4", "kind": "Observation", "alt": 900, "theta": 298.98},
      {"p": "R4", "kind": "Observation", "alt": 950, "theta": 299.3},
      {"p": "R4", "kind": "Observation", "alt": 1000, "theta": 299.6},
      {"p": "R4", "kind": "Observation", "alt": 1050, "theta": 299.85},
      {"p": "R4", "kind": "Observation", "alt": 1100, "theta": 300.05},

      {"p": "R5", "kind": "Observation", "alt": 20, "theta": 298.05},
      {"p": "R5", "kind": "Observation", "alt": 75, "theta": 298.06},
      {"p": "R5", "kind": "Observation", "alt": 150, "theta": 298.08},
      {"p": "R5", "kind": "Observation", "alt": 225, "theta": 298.1},
      {"p": "R5", "kind": "Observation", "alt": 300, "theta": 298.07},
      {"p": "R5", "kind": "Observation", "alt": 375, "theta": 298.12},
      {"p": "R5", "kind": "Observation", "alt": 450, "theta": 298.15},
      {"p": "R5", "kind": "Observation", "alt": 525, "theta": 298.18},
      {"p": "R5", "kind": "Observation", "alt": 600, "theta": 298.22},
      {"p": "R5", "kind": "Observation", "alt": 650, "theta": 298.24},
      {"p": "R5", "kind": "Observation", "alt": 700, "theta": 298.25},
      {"p": "R5", "kind": "Observation", "alt": 733, "theta": 298.27},
      {"p": "R5", "kind": "Observation", "alt": 766, "theta": 298.44},
      {"p": "R5", "kind": "Observation", "alt": 800, "theta": 298.61},
      {"p": "R5", "kind": "Observation", "alt": 850, "theta": 298.9},
      {"p": "R5", "kind": "Observation", "alt": 900, "theta": 299.18},
      {"p": "R5", "kind": "Observation", "alt": 950, "theta": 299.45},
      {"p": "R5", "kind": "Observation", "alt": 1000, "theta": 299.71},
      {"p": "R5", "kind": "Observation", "alt": 1050, "theta": 299.95},
      {"p": "R5", "kind": "Observation", "alt": 1100, "theta": 300.12},

      {"p": "R6", "kind": "Observation", "alt": 20, "theta": 298.08},
      {"p": "R6", "kind": "Observation", "alt": 75, "theta": 298.1},
      {"p": "R6", "kind": "Observation", "alt": 150, "theta": 298.12},
      {"p": "R6", "kind": "Observation", "alt": 225, "theta": 298.14},
      {"p": "R6", "kind": "Observation", "alt": 300, "theta": 298.16},
      {"p": "R6", "kind": "Observation", "alt": 375, "theta": 298.2},
      {"p": "R6", "kind": "Observation", "alt": 450, "theta": 298.23},
      {"p": "R6", "kind": "Observation", "alt": 525, "theta": 298.28},
      {"p": "R6", "kind": "Observation", "alt": 600, "theta": 298.35},
      {"p": "R6", "kind": "Observation", "alt": 650, "theta": 298.33},
      {"p": "R6", "kind": "Observation", "alt": 700, "theta": 298.34},
      {"p": "R6", "kind": "Observation", "alt": 733, "theta": 298.36},
      {"p": "R6", "kind": "Observation", "alt": 766, "theta": 298.55},
      {"p": "R6", "kind": "Observation", "alt": 800, "theta": 298.72},
      {"p": "R6", "kind": "Observation", "alt": 850, "theta": 299.0},
      {"p": "R6", "kind": "Observation", "alt": 900, "theta": 299.26},
      {"p": "R6", "kind": "Observation", "alt": 950, "theta": 299.6},
      {"p": "R6", "kind": "Observation", "alt": 1000, "theta": 300.0},
      {"p": "R6", "kind": "Observation", "alt": 1050, "theta": 300.2},
      {"p": "R6", "kind": "Observation", "alt": 1100, "theta": 300.43},

      {"p": "R7", "kind": "Observation", "alt": 25, "theta": 298.13},
      {"p": "R7", "kind": "Observation", "alt": 75, "theta": 298.14},
      {"p": "R7", "kind": "Observation", "alt": 150, "theta": 298.1},
      {"p": "R7", "kind": "Observation", "alt": 225, "theta": 298.15},
      {"p": "R7", "kind": "Observation", "alt": 300, "theta": 298.18},
      {"p": "R7", "kind": "Observation", "alt": 375, "theta": 298.2},
      {"p": "R7", "kind": "Observation", "alt": 450, "theta": 298.22},
      {"p": "R7", "kind": "Observation", "alt": 525, "theta": 298.3},
      {"p": "R7", "kind": "Observation", "alt": 600, "theta": 298.45},
      {"p": "R7", "kind": "Observation", "alt": 650, "theta": 298.48},
      {"p": "R7", "kind": "Observation", "alt": 700, "theta": 298.45},
      {"p": "R7", "kind": "Observation", "alt": 733, "theta": 298.45},
      {"p": "R7", "kind": "Observation", "alt": 766, "theta": 298.6},
      {"p": "R7", "kind": "Observation", "alt": 800, "theta": 298.78},
      {"p": "R7", "kind": "Observation", "alt": 850, "theta": 299.05},
      {"p": "R7", "kind": "Observation", "alt": 900, "theta": 299.33},
      {"p": "R7", "kind": "Observation", "alt": 950, "theta": 299.75},
      {"p": "R7", "kind": "Observation", "alt": 1000, "theta": 300.05},
      {"p": "R7", "kind": "Observation", "alt": 1050, "theta": 300.2},
      {"p": "R7", "kind": "Observation", "alt": 1100, "theta": 300.35},

      {"p": "R8", "kind": "Observation", "alt": 20, "theta": 298.16},
      {"p": "R8", "kind": "Observation", "alt": 75, "theta": 298.18},
      {"p": "R8", "kind": "Observation", "alt": 150, "theta": 298.2},
      {"p": "R8", "kind": "Observation", "alt": 225, "theta": 298.25},
      {"p": "R8", "kind": "Observation", "alt": 300, "theta": 298.28},
      {"p": "R8", "kind": "Observation", "alt": 375, "theta": 298.32},
      {"p": "R8", "kind": "Observation", "alt": 450, "theta": 298.4},
      {"p": "R8", "kind": "Observation", "alt": 525, "theta": 298.5},
      {"p": "R8", "kind": "Observation", "alt": 600, "theta": 298.52},
      {"p": "R8", "kind": "Observation", "alt": 650, "theta": 298.53},
      {"p": "R8", "kind": "Observation", "alt": 700, "theta": 298.55},
      {"p": "R8", "kind": "Observation", "alt": 733, "theta": 298.55},
      {"p": "R8", "kind": "Observation", "alt": 766, "theta": 298.7},
      {"p": "R8", "kind": "Observation", "alt": 800, "theta": 298.87},
      {"p": "R8", "kind": "Observation", "alt": 850, "theta": 299.15},
      {"p": "R8", "kind": "Observation", "alt": 900, "theta": 299.44},
      {"p": "R8", "kind": "Observation", "alt": 950, "theta": 299.8},
      {"p": "R8", "kind": "Observation", "alt": 1000, "theta": 300.16},
      {"p": "R8", "kind": "Observation", "alt": 1050, "theta": 300.4},
      {"p": "R8", "kind": "Observation", "alt": 1100, "theta": 300.66},

      {"p": "R9", "kind": "Observation", "alt": 25, "theta": 298.32},
      {"p": "R9", "kind": "Observation", "alt": 75, "theta": 298.3},
      {"p": "R9", "kind": "Observation", "alt": 150, "theta": 298.28},
      {"p": "R9", "kind": "Observation", "alt": 225, "theta": 298.3},
      {"p": "R9", "kind": "Observation", "alt": 300, "theta": 298.34},
      {"p": "R9", "kind": "Observation", "alt": 375, "theta": 298.32},
      {"p": "R9", "kind": "Observation", "alt": 450, "theta": 298.38},
      {"p": "R9", "kind": "Observation", "alt": 525, "theta": 298.55},
      {"p": "R9", "kind": "Observation", "alt": 600, "theta": 298.59},
      {"p": "R9", "kind": "Observation", "alt": 650, "theta": 298.64},
      {"p": "R9", "kind": "Observation", "alt": 700, "theta": 298.67},
      {"p": "R9", "kind": "Observation", "alt": 733, "theta": 298.69},
      {"p": "R9", "kind": "Observation", "alt": 766, "theta": 298.85},
      {"p": "R9", "kind": "Observation", "alt": 800, "theta": 298.98},
      {"p": "R9", "kind": "Observation", "alt": 850, "theta": 299.3},
      {"p": "R9", "kind": "Observation", "alt": 900, "theta": 299.64},
      {"p": "R9", "kind": "Observation", "alt": 950, "theta": 299.95},
      {"p": "R9", "kind": "Observation", "alt": 1000, "theta": 300.23},
      {"p": "R9", "kind": "Observation", "alt": 1050, "theta": 300.55},
      {"p": "R9", "kind": "Observation", "alt": 1100, "theta": 300.8},

      {"p": "R10", "kind": "Observation", "alt": 20, "theta": 298.5},
      {"p": "R10", "kind": "Observation", "alt": 75, "theta": 298.48},
      {"p": "R10", "kind": "Observation", "alt": 150, "theta": 298.52},
      {"p": "R10", "kind": "Observation", "alt": 225, "theta": 298.5},
      {"p": "R10", "kind": "Observation", "alt": 300, "theta": 298.47},
      {"p": "R10", "kind": "Observation", "alt": 375, "theta": 298.44},
      {"p": "R10", "kind": "Observation", "alt": 450, "theta": 298.5},
      {"p": "R10", "kind": "Observation", "alt": 525, "theta": 298.6},
      {"p": "R10", "kind": "Observation", "alt": 600, "theta": 298.7},
      {"p": "R10", "kind": "Observation", "alt": 650, "theta": 298.72},
      {"p": "R10", "kind": "Observation", "alt": 700, "theta": 298.74},
      {"p": "R10", "kind": "Observation", "alt": 733, "theta": 298.76},
      {"p": "R10", "kind": "Observation", "alt": 766, "theta": 298.92},
      {"p": "R10", "kind": "Observation", "alt": 800, "theta": 299.1},
      {"p": "R10", "kind": "Observation", "alt": 850, "theta": 299.45},
      {"p": "R10", "kind": "Observation", "alt": 900, "theta": 299.75},
      {"p": "R10", "kind": "Observation", "alt": 950, "theta": 300.05},
      {"p": "R10", "kind": "Observation", "alt": 1000, "theta": 300.35},
      {"p": "R10", "kind": "Observation", "alt": 1050, "theta": 300.45},
      {"p": "R10", "kind": "Observation", "alt": 1100, "theta": 300.6},

      {"p": "R11", "kind": "Observation", "alt": 25, "theta": 298.55},
      {"p": "R11", "kind": "Observation", "alt": 75, "theta": 298.56},
      {"p": "R11", "kind": "Observation", "alt": 150, "theta": 298.54},
      {"p": "R11", "kind": "Observation", "alt": 225, "theta": 298.5},
      {"p": "R11", "kind": "Observation", "alt": 300, "theta": 298.53},
      {"p": "R11", "kind": "Observation", "alt": 375, "theta": 298.54},
      {"p": "R11", "kind": "Observation", "alt": 450, "theta": 298.56},
      {"p": "R11", "kind": "Observation", "alt": 525, "theta": 298.65},
      {"p": "R11", "kind": "Observation", "alt": 600, "theta": 298.8},
      {"p": "R11", "kind": "Observation", "alt": 650, "theta": 298.82},
      {"p": "R11", "kind": "Observation", "alt": 700, "theta": 298.83},
      {"p": "R11", "kind": "Observation", "alt": 733, "theta": 298.85},
      {"p": "R11", "kind": "Observation", "alt": 766, "theta": 299.05},
      {"p": "R11", "kind": "Observation", "alt": 800, "theta": 299.29},
      {"p": "R11", "kind": "Observation", "alt": 850, "theta": 299.6},
      {"p": "R11", "kind": "Observation", "alt": 900, "theta": 299.86},
      {"p": "R11", "kind": "Observation", "alt": 950, "theta": 300.15},
      {"p": "R11", "kind": "Observation", "alt": 1000, "theta": 300.5},
      {"p": "R11", "kind": "Observation", "alt": 1050, "theta": 300.62},
      {"p": "R11", "kind": "Observation", "alt": 1100, "theta": 300.9},

      {"p": "R12", "kind": "Observation", "alt": 20, "theta": 298.58},
      {"p": "R12", "kind": "Observation", "alt": 75, "theta": 298.6},
      {"p": "R12", "kind": "Observation", "alt": 150, "theta": 298.57},
      {"p": "R12", "kind": "Observation", "alt": 225, "theta": 298.6},
      {"p": "R12", "kind": "Observation", "alt": 300, "theta": 298.58},
      {"p": "R12", "kind": "Observation", "alt": 375, "theta": 298.6},
      {"p": "R12", "kind": "Observation", "alt": 450, "theta": 298.62},
      {"p": "R12", "kind": "Observation", "alt": 525, "theta": 298.7},
      {"p": "R12", "kind": "Observation", "alt": 600, "theta": 298.86},
      {"p": "R12", "kind": "Observation", "alt": 650, "theta": 298.95},
      {"p": "R12", "kind": "Observation", "alt": 700, "theta": 299.02},
      {"p": "R12", "kind": "Observation", "alt": 733, "theta": 299.06},
      {"p": "R12", "kind": "Observation", "alt": 766, "theta": 299.2},
      {"p": "R12", "kind": "Observation", "alt": 800, "theta": 299.37},
      {"p": "R12", "kind": "Observation", "alt": 850, "theta": 299.5},
      {"p": "R12", "kind": "Observation", "alt": 900, "theta": 299.6},
      {"p": "R12", "kind": "Observation", "alt": 950, "theta": 299.75},
      {"p": "R12", "kind": "Observation", "alt": 1000, "theta": 299.95},
      {"p": "R12", "kind": "Observation", "alt": 1050, "theta": 300.1},
      {"p": "R12", "kind": "Observation", "alt": 1100, "theta": 300.25},

      {"p": "R13", "kind": "Observation", "alt": 25, "theta": 298.61},
      {"p": "R13", "kind": "Observation", "alt": 75, "theta": 298.62},
      {"p": "R13", "kind": "Observation", "alt": 150, "theta": 298.65},
      {"p": "R13", "kind": "Observation", "alt": 225, "theta": 298.64},
      {"p": "R13", "kind": "Observation", "alt": 300, "theta": 298.7},
      {"p": "R13", "kind": "Observation", "alt": 375, "theta": 298.76},
      {"p": "R13", "kind": "Observation", "alt": 425, "theta": 298.78},
      {"p": "R13", "kind": "Observation", "alt": 500, "theta": 298.8},
      {"p": "R13", "kind": "Observation", "alt": 550, "theta": 298.82},
      {"p": "R13", "kind": "Observation", "alt": 600, "theta": 298.9},
      {"p": "R13", "kind": "Observation", "alt": 650, "theta": 298.98},
      {"p": "R13", "kind": "Observation", "alt": 700, "theta": 299.05},
      {"p": "R13", "kind": "Observation", "alt": 733, "theta": 299.12},
      {"p": "R13", "kind": "Observation", "alt": 766, "theta": 299.2},
      {"p": "R13", "kind": "Observation", "alt": 800, "theta": 299.25},
      {"p": "R13", "kind": "Observation", "alt": 850, "theta": 299.32},
      {"p": "R13", "kind": "Observation", "alt": 900, "theta": 299.4},
      {"p": "R13", "kind": "Observation", "alt": 950, "theta": 299.7},
      {"p": "R13", "kind": "Observation", "alt": 1000, "theta": 300.1},
      {"p": "R13", "kind": "Observation", "alt": 1050, "theta": 300.4},
      {"p": "R13", "kind": "Observation", "alt": 1100, "theta": 300.7}
    ]
  },
  "hconcat": [
    {
      "width": 437,
      "height": 506,
      "layer": [
        {
          "data": {"name": "rh_obs"},
          "mark": {"type": "line", "interpolate": "catmull-rom"},
          "encoding": {
            "x": {
              "field": "rh", "type": "quantitative",
              "scale": {"domain": [55, 105], "nice": false, "zero": false},
              "axis": {
                "values": [60, 70, 80, 90, 100], "format": "d",
                "title": "Relative humidity [%]",
                "titleColor": "#6d9eb7", "labelColor": "#6d9eb7", "tickColor": "#6d9eb7",
                "labelAngle": 30, "labelAlign": "center", "labelBaseline": "middle",
                "labelPadding": 22, "titlePadding": 16
              }
            },
            "y": {
              "field": "alt", "type": "quantitative",
              "scale": {"domain": [0, 1100], "nice": false},
              "axis": {"values": [0, 200, 400, 600, 800, 1000], "format": "d", "title": "Altitude 𝑚", "labelPadding": 8, "titlePadding": 9}
            },
            "detail": {"field": "p"},
            "order": {"field": "alt", "type": "quantitative"},
            "color": {
              "field": "kind", "type": "nominal",
              "scale": {"domain": ["Observation", "ATR height", "Fit"], "range": ["#99bbcd", "#000000", "#6d9eb7"]},
              "legend": {"legendX": 17, "legendY": 190, "values": ["Observation", "Fit", "ATR height"]}
            },
            "strokeWidth": {
              "field": "kind", "type": "nominal",
              "scale": {"domain": ["Observation", "ATR height", "Fit"], "range": [1.2, 5.5]}
            },
            "strokeDash": {
              "field": "kind", "type": "nominal",
              "scale": {"domain": ["Observation", "ATR height", "Fit"], "range": [[1, 0], [9.5, 4], [1, 0]]}
            }
          }
        },
        {
          "data": {"name": "rh_fit"},
          "mark": {"type": "line", "strokeJoin": "round"},
          "encoding": {
            "x": {"field": "rh", "type": "quantitative"},
            "y": {"field": "alt", "type": "quantitative"},
            "order": {"field": "alt", "type": "quantitative"},
            "color": {"field": "kind", "type": "nominal"},
            "strokeWidth": {"field": "kind", "type": "nominal"},
            "strokeDash": {"field": "kind", "type": "nominal"}
          }
        },
        {
          "data": {"name": "atr"},
          "mark": {"type": "rule"},
          "encoding": {
            "y": {"field": "alt", "type": "quantitative"},
            "color": {"field": "kind", "type": "nominal"},
            "strokeWidth": {"field": "kind", "type": "nominal"},
            "strokeDash": {"field": "kind", "type": "nominal"}
          }
        },
        {
          "data": {"values": [{"label": "(a)"}]},
          "mark": {"type": "text", "align": "left", "baseline": "middle", "fontSize": 23.5, "color": "#000000", "font": "DejaVu Sans"},
          "encoding": {
            "x": {"datum": 58.95, "type": "quantitative"},
            "y": {"datum": 1034, "type": "quantitative"},
            "text": {"field": "label"}
          }
        }
      ]
    },
    {
      "width": 437,
      "height": 506,
      "layer": [
        {
          "data": {"name": "theta_obs"},
          "mark": {"type": "line", "interpolate": "catmull-rom"},
          "encoding": {
            "x": {
              "field": "theta", "type": "quantitative",
              "scale": {"domain": [296.5, 301.5], "nice": false, "zero": false},
              "axis": {
                "values": [297, 298, 299, 300, 301], "format": "d",
                "title": "Potential temperature [𝐾]",
                "titleColor": "#cc6677", "labelColor": "#cc6677", "tickColor": "#cc6677",
                "labelAngle": 30, "labelAlign": "center", "labelBaseline": "middle",
                "labelPadding": 22, "titlePadding": 14
              }
            },
            "y": {
              "field": "alt", "type": "quantitative",
              "scale": {"domain": [0, 1100], "nice": false},
              "axis": {"values": [0, 200, 400, 600, 800, 1000], "format": "d", "title": "Altitude 𝑚", "labelPadding": 8, "titlePadding": 9}
            },
            "detail": {"field": "p"},
            "order": {"field": "alt", "type": "quantitative"},
            "color": {
              "field": "kind", "type": "nominal",
              "scale": {"domain": ["Observation", "ATR height", "Fit"], "range": ["#db94a0", "#000000", "#cc6677"]},
              "legend": {"legendX": 200.5, "legendY": 190, "values": ["Observation", "Fit", "ATR height"]}
            },
            "strokeWidth": {
              "field": "kind", "type": "nominal",
              "scale": {"domain": ["Observation", "ATR height", "Fit"], "range": [1.2, 5.5]}
            },
            "strokeDash": {
              "field": "kind", "type": "nominal",
              "scale": {"domain": ["Observation", "ATR height", "Fit"], "range": [[1, 0], [9.5, 4], [1, 0]]}
            }
          }
        },
        {
          "data": {"name": "theta_fit"},
          "mark": {"type": "line", "strokeJoin": "round"},
          "encoding": {
            "x": {"field": "theta", "type": "quantitative"},
            "y": {"field": "alt", "type": "quantitative"},
            "order": {"field": "alt", "type": "quantitative"},
            "color": {"field": "kind", "type": "nominal"},
            "strokeWidth": {"field": "kind", "type": "nominal"},
            "strokeDash": {"field": "kind", "type": "nominal"}
          }
        },
        {
          "data": {"name": "atr"},
          "mark": {"type": "rule"},
          "encoding": {
            "y": {"field": "alt", "type": "quantitative"},
            "color": {"field": "kind", "type": "nominal"},
            "strokeWidth": {"field": "kind", "type": "nominal"},
            "strokeDash": {"field": "kind", "type": "nominal"}
          }
        },
        {
          "data": {"values": [{"label": "(b)"}]},
          "mark": {"type": "text", "align": "left", "baseline": "middle", "fontSize": 23.5, "color": "#000000", "font": "DejaVu Sans"},
          "encoding": {
            "x": {"datum": 296.91, "type": "quantitative"},
            "y": {"datum": 1034, "type": "quantitative"},
            "text": {"field": "label"}
          }
        }
      ]
    }
  ],
  "resolve": {
    "scale": {"x": "independent", "y": "independent", "color": "independent", "strokeWidth": "independent", "strokeDash": "independent"},
    "legend": {"color": "independent", "strokeWidth": "independent", "strokeDash": "independent"}
  }
}
